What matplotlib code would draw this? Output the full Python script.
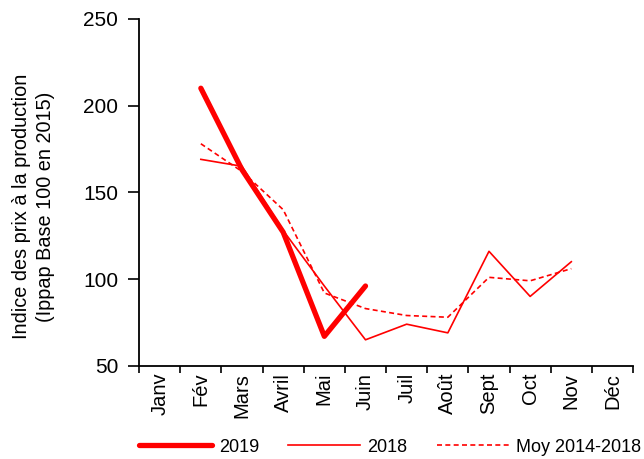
import matplotlib
matplotlib.use('Agg')
import numpy as np
import matplotlib.pyplot as plt

plt.rcParams['font.family'] = ['Liberation Sans', 'DejaVu Sans']

# Mois (axe des x)
mois = ['Janv', 'Fév', 'Mars', 'Avril', 'Mai', 'Juin', 'Juil', 'Août',
        'Sept', 'Oct', 'Nov', 'Déc']

# Valeurs (None = pas de donnée)
v2019 = [None, 210, 163, 127, 67, 96, None, None, None, None, None, None]
v2018 = [None, 169, 165, 128, 96, 65, 74, 69, 116, 90, 110, None]
moy = [None, 178, 162, 140, 92, 83, 79, 78, 101, 99, 106, None]


def arr(v):
    return np.array([np.nan if x is None else x for x in v], dtype=float)


x = np.arange(len(mois))

fig = plt.figure(figsize=(6.44, 4.59), dpi=100)
ax = fig.add_axes([0.216, 0.203, 0.767, 0.756])

ax.plot(x, arr(v2019), color='#ff0000', lw=3.8, solid_capstyle='round',
        label='2019')
ax.plot(x, arr(v2018), color='#ff0000', lw=1.2, label='2018')
ax.plot(x, arr(moy), color='#ff0000', lw=1.2, ls=(0, (3, 2)),
        label='Moy 2014-2018')

ax.set_xlim(-0.5, 11.5)
ax.set_ylim(50, 250)
ax.set_yticks([50, 100, 150, 200, 250])
ax.set_xticks(x)
ax.set_xticklabels(mois, rotation=90, fontsize=14.5)
ax.set_xticks(np.arange(-0.5, 12, 1), minor=True)
ax.tick_params(axis='x', which='major', length=0, pad=5)
ax.tick_params(axis='x', which='minor', length=5, width=1.2, direction='out')
ax.tick_params(axis='y', length=8, width=1.2, labelsize=15, pad=7)

for s in ['top', 'right']:
    ax.spines[s].set_visible(False)
for s in ['left', 'bottom']:
    ax.spines[s].set_linewidth(1.3)

# titre de l'axe des y, placé à la main comme dans l'original
fig.text(0.052, 0.55,
         'Indice des prix à la production\n(Ippap Base 100 en 2015)',
         rotation=90, ha='center', va='center', fontsize=14.3,
         linespacing=1.3, multialignment='center')

fig.legend(loc='center', bbox_to_anchor=(0.606, 0.026), ncol=3,
           frameon=False, fontsize=13, handlelength=4.0,
           handletextpad=0.4, columnspacing=1.6)

fig.savefig('out.png', dpi=100)
